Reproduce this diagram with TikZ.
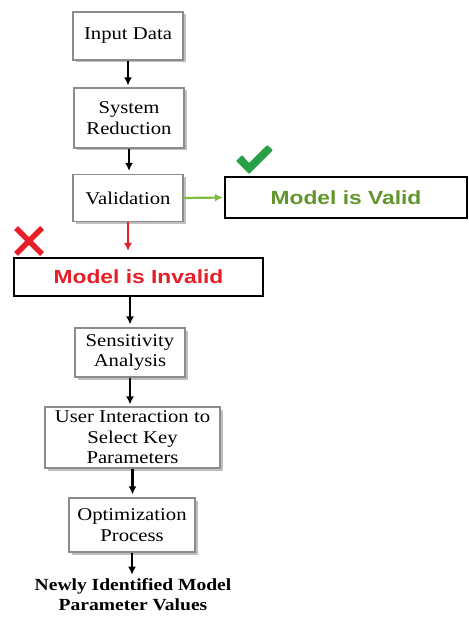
\documentclass[tikz,border=0pt]{standalone}
\usepackage{fontspec}
\setmainfont[FakeStretch=1.15]{Liberation Serif}
\newfontfamily\signfont[FakeStretch=1.2]{Liberation Sans}
\usetikzlibrary{positioning,arrows.meta,shadows}
\definecolor{okgreen}{RGB}{98,150,45}
\definecolor{okarrow}{RGB}{125,190,60}
\definecolor{tickgreen}{RGB}{40,160,70}
\definecolor{badred}{RGB}{230,30,40}
\tikzset{
  stepbox/.style={draw=black!45, line width=1.2pt, fill=white, align=center, inner sep=0pt,
    font=\fontsize{18}{20.5}\selectfont,
    drop shadow={shadow xshift=2.5pt, shadow yshift=-2.5pt, fill=black!25, opacity=1}},
  signbox/.style={draw=black, line width=2.2pt, fill=white, inner sep=0pt,
    font=\signfont\bfseries\fontsize{19}{22}\selectfont},
  flow/.style={-{Latex[length=8pt,width=8pt]}, line width=2.2pt}
}

\begin{document}
\begin{tikzpicture}[x=1pt,y=-1pt]
            \useasboundingbox (0,0) rectangle (468,617);
            \node[stepbox, minimum width=110pt, minimum height=48pt] (input) at (128,36) {Input Data};
            \node[stepbox, minimum width=110pt, minimum height=60pt] (reduce) at (129,118) {System\\Reduction};
            \node[stepbox, minimum width=110pt, minimum height=47pt] (check) at (128,198) {Validation};
            \node[signbox, text=okgreen, minimum width=242pt, minimum height=41pt] (valid) at (346,197.5) {Model is Valid};
            \node[signbox, text=badred, minimum width=249pt, minimum height=38pt] (invalid) at (138.5,277) {Model is Invalid};
            \node[stepbox, minimum width=110pt, minimum height=49pt] (sens) at (130,352.5) {Sensitivity\\Analysis};
            \node[stepbox, minimum width=175pt, minimum height=61pt] (user) at (132.5,437.5) {User Interaction to\\Select Key\\Parameters};
            \node[stepbox, minimum width=126pt, minimum height=54pt] (optim) at (132,525) {Optimization\\Process};
            \node[align=center, inner sep=0pt, font=\bfseries\fontsize{17}{20}\selectfont] (result) at (133,595) {Newly Identified Model\\Parameter Values};
            \draw[flow] (input.south) -- ([yshift=2pt]input.south |- reduce.north);
            \draw[flow] (reduce.south) -- ([yshift=3pt]reduce.south |- check.north);
            \draw[flow, okarrow] (check.east) -- ([xshift=-1pt]valid.west);
            \draw[flow, badred, line width=1.8pt] (check.south) -- ([yshift=6pt]check.south |- invalid.north);
            \draw[flow] (invalid.south -| sens.north) -- ([yshift=3pt]sens.north);
            \draw[flow] (sens.south) -- ([yshift=2pt]sens.south |- user.north);
            \draw[flow] (user.south) -- ([yshift=3pt]user.south |- optim.north);
            \draw[flow] (optim.south) -- ([yshift=4pt]optim.south |- result.north);
            % tick and cross marks
            \fill[tickgreen, rounded corners=1pt] (236,161) -- (242,155) -- (249,163) -- (267,145) -- (273,150) -- (249,174) -- cycle;
            \draw[badred, line width=5.5pt] (16,228) -- (42,254) (42,228) -- (16,254);
        \end{tikzpicture}
\end{document}
